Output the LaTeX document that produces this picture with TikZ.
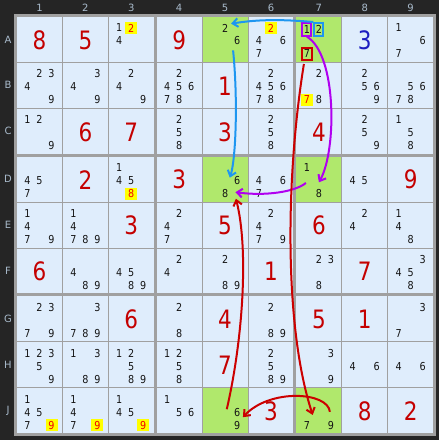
\documentclass[tikz,border=0pt]{standalone}
\usepackage{fontspec}
\setmainfont{DejaVu Sans}
\newfontfamily\candfont[FakeStretch=0.88]{DejaVu Sans}
\newfontfamily\bigfont[FakeStretch=0.85]{DejaVu Sans}
\usetikzlibrary{arrows.meta}
\definecolor{bgdark}{HTML}{252525}
\definecolor{lbl}{HTML}{A9BBCC}
\definecolor{gridc}{HTML}{A0A0A0}
\definecolor{cellc}{HTML}{DFEDFC}
\definecolor{greenc}{HTML}{B0E86C}
\definecolor{givenc}{HTML}{C40000}
\definecolor{solvedb}{HTML}{1C1CC0}
\definecolor{candc}{HTML}{141414}
\definecolor{hlc}{HTML}{FFFF00}
\definecolor{hltext}{HTML}{F00000}
\definecolor{arrblue}{HTML}{1E96F0}
\definecolor{arrpurple}{HTML}{B000F0}
\definecolor{arrred}{HTML}{CC0000}
\tikzset{
 cand/.style={inner sep=0pt, text=candc, font=\candfont\fontsize{8.2pt}{9pt}\selectfont},
 hcand/.style={fill=hlc, text=hltext, minimum width=9pt, minimum height=8.8pt},
 boxp/.style={draw=arrpurple, line width=1.5pt, minimum width=6.75pt, minimum height=9.5pt},
 boxb/.style={draw=arrblue, line width=1.5pt, minimum width=6.75pt, minimum height=9.5pt},
 boxr/.style={draw=arrred, line width=1.5pt, minimum width=7pt, minimum height=9pt},
 bigd/.style={inner sep=0pt, text=givenc, font=\bigfont\fontsize{19pt}{20pt}\selectfont},
 lab/.style={inner sep=0pt, text=lbl, font=\fontsize{7.5pt}{8pt}\selectfont},
 lnk/.style={line width=1.5pt, -{Straight Barb[length=4pt,width=6.5pt]}},
}
% cell left/top in px units
\newcommand\cellfill[3]{\fill[#3] ({17+(#1-1)*45.9+int((#1-1)/3)*2},{17+(#2-1)*45.9+int((#2-1)/3)*2}) rectangle ++(44.9,44.9);}
\newcommand\given[4][]{\node[bigd,#1] (g#2#3) at ({17+(#2-1)*45.9+int((#2-1)/3)*2+22.45},{17+(#3-1)*45.9+int((#3-1)/3)*2+23}) {#4};}
\newcommand\cand[4][]{\node[cand,#1] (c#2#3d#4) at ({17+(#2-1)*45.9+int((#2-1)/3)*2+10.5+12*mod(#4-1,3)},{17+(#3-1)*45.9+int((#3-1)/3)*2+11+13*int((#4-1)/3)}) {#4};}
\newcommand\cands[3]{\foreach \dd in {#3}{\cand{#1}{#2}{\dd}}}
\begin{document}
\begin{tikzpicture}[x=0.75pt,y=-0.75pt]
\useasboundingbox (0,0) rectangle (439,440);
\fill[bgdark] (0,0) rectangle (439,440);
\fill[gridc] (14,14) rectangle (436,436);
\foreach \c in {1,...,9}{\foreach \r in {1,...,9}{\cellfill{\c}{\r}{cellc}}}
\cellfill{5}{1}{greenc}\cellfill{7}{1}{greenc}
\cellfill{5}{4}{greenc}\cellfill{7}{4}{greenc}
\cellfill{5}{9}{greenc}\cellfill{7}{9}{greenc}
% labels
\foreach \c in {1,...,9}{\node[lab] (col\c) at ({17+(\c-1)*45.9+int((\c-1)/3)*2+22.45},8) {\c};}
\foreach \l [count=\r] in {A,B,C,D,E,F,G,H,J}{\node[lab] (row\l) at (8,{17+(\r-1)*45.9+int((\r-1)/3)*2+22.45}) {\l};}
% row A
\given{1}{1}{8}\given{2}{1}{5}\given{4}{1}{9}\given[text=solvedb]{8}{1}{3}
\cands{3}{1}{1,4}\cand[hcand]{3}{1}{2}
\cands{5}{1}{2,6}
\cands{6}{1}{4,6,7}\cand[hcand]{6}{1}{2}
\cand[boxp,yshift=-1pt]{7}{1}{1}\cand[boxb,yshift=-1pt]{7}{1}{2}\cand[boxr]{7}{1}{7}
\cands{9}{1}{1,6,7}
% row B
\cands{1}{2}{2,3,4,9}\cands{2}{2}{3,4,9}\cands{3}{2}{2,4,9}
\cands{4}{2}{2,4,5,6,7,8}\given{5}{2}{1}\cands{6}{2}{2,4,5,6,7,8}
\cands{7}{2}{2,8}\cand[hcand]{7}{2}{7}\cands{8}{2}{2,5,6,9}\cands{9}{2}{5,6,7,8}
% row C
\cands{1}{3}{1,2,9}\given{2}{3}{6}\given{3}{3}{7}
\cands{4}{3}{2,5,8}\given{5}{3}{3}\cands{6}{3}{2,5,8}
\given{7}{3}{4}\cands{8}{3}{2,5,9}\cands{9}{3}{1,5,8}
% row D
\cands{1}{4}{4,5,7}\given{2}{4}{2}\cands{3}{4}{1,4,5}\cand[hcand]{3}{4}{8}
\given{4}{4}{3}\cands{5}{4}{6,8}\cands{6}{4}{4,6,7}
\cands{7}{4}{1,8}\cands{8}{4}{4,5}\given{9}{4}{9}
% row E
\cands{1}{5}{1,4,7,9}\cands{2}{5}{1,4,7,8,9}\given{3}{5}{3}
\cands{4}{5}{2,4,7}\given{5}{5}{5}\cands{6}{5}{2,4,7,9}
\given{7}{5}{6}\cands{8}{5}{2,4}\cands{9}{5}{1,4,8}
% row F
\given{1}{6}{6}\cands{2}{6}{4,8,9}\cands{3}{6}{4,5,8,9}
\cands{4}{6}{2,4}\cands{5}{6}{2,8,9}\given{6}{6}{1}
\cands{7}{6}{2,3,8}\given{8}{6}{7}\cands{9}{6}{3,4,5,8}
% row G
\cands{1}{7}{2,3,7,9}\cands{2}{7}{3,7,8,9}\given{3}{7}{6}
\cands{4}{7}{2,8}\given{5}{7}{4}\cands{6}{7}{2,8,9}
\given{7}{7}{5}\given{8}{7}{1}\cands{9}{7}{3,7}
% row H
\cands{1}{8}{1,2,3,5,9}\cands{2}{8}{1,3,8,9}\cands{3}{8}{1,2,5,8,9}
\cands{4}{8}{1,2,5,8}\given{5}{8}{7}\cands{6}{8}{2,5,8,9}
\cands{7}{8}{3,9}\cands{8}{8}{4,6}\cands{9}{8}{4,6}
% row J
\cands{1}{9}{1,4,5,7}\cand[hcand]{1}{9}{9}
\cands{2}{9}{1,4,7}\cand[hcand]{2}{9}{9}
\cands{3}{9}{1,4,5}\cand[hcand]{3}{9}{9}
\cands{4}{9}{1,5,6}\cands{5}{9}{6,9}\given{6}{9}{3}
\cands{7}{9}{7,9}\given{8}{9}{8}\given{9}{9}{2}
% links
\draw[lnk,arrblue] (c71d2.north west) .. controls +(-35,-3) and +(25,-4) .. ([xshift=2pt]c51d2.north east);
\draw[lnk,arrblue] ([shift={(-4,5)}]c51d6.south) .. controls +(5,50) and +(6,-18) .. ([shift={(-4,-3)}]c54d6.west);
\draw[lnk,arrpurple] (c71d1.south) .. controls +(30,18) and +(18,-32) .. ([shift={(0,-7)}]c74d8.north);
\draw[lnk,arrpurple] ([shift={(-1,11)}]c74d1.south) .. controls +(-11,9) and +(30,4) .. ([shift={(7,-1.5)}]c54d8.east);
\draw[lnk,arrred] ([shift={(-7,-3)}]c59d6.west) .. controls +(16,-69) and +(13,51) .. ([shift={(7.5,5)}]c54d8.east);
\draw[lnk,arrred] ([shift={(-3,3)}]c71d7.south) .. controls +(-19,118) and +(-28,-85) .. ([shift={(2.5,-6)}]c79d7.north east);
\draw[lnk,arrred] ([shift={(-1,-9)}]c79d9.north) .. controls +(-2,-20) and +(27,-29) .. ([shift={(2.5,5)}]c59d6.east);
\end{tikzpicture}
\end{document}
